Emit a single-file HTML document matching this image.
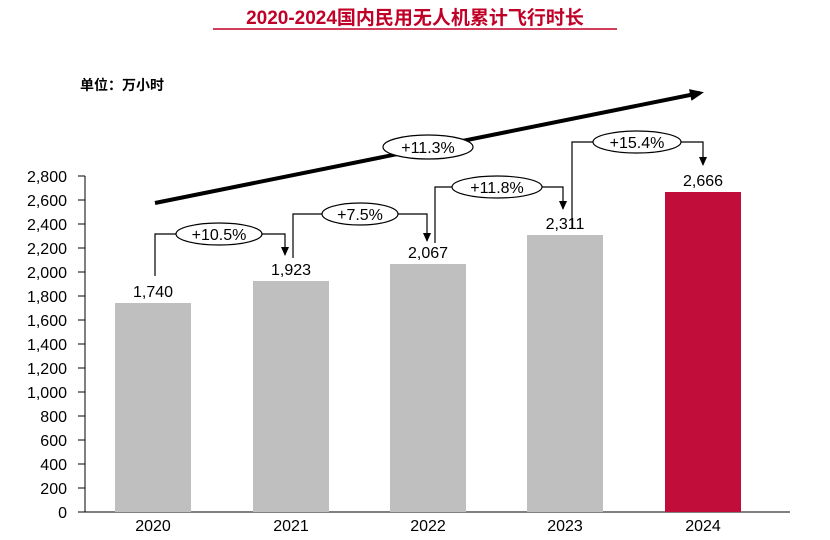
<!DOCTYPE html>
<html><head><meta charset="utf-8"><style>
body{margin:0;background:#fff}
svg{display:block;font-family:"Liberation Sans","Noto Sans CJK SC",sans-serif}
</style></head><body>
<svg width="830" height="540" viewBox="0 0 830 540" xmlns="http://www.w3.org/2000/svg">
<defs><marker id="ah" markerWidth="9" markerHeight="8" refX="8" refY="4" orient="auto" markerUnits="userSpaceOnUse"><path d="M0,0 L9,4 L0,8 z" fill="#000"/></marker>
<marker id="bh" markerWidth="14" markerHeight="12" refX="10" refY="6" orient="auto" markerUnits="userSpaceOnUse"><path d="M0,0 L14,6 L0,12 z" fill="#000"/></marker></defs>
<text x="415" y="24" text-anchor="middle" font-size="19" font-weight="bold" fill="#c00027">2020-2024国内民用无人机累计飞行时长</text>
<line x1="213" y1="29" x2="617" y2="29" stroke="#c00027" stroke-width="1.5"/>
<text x="80" y="90" font-size="14" font-weight="bold" fill="#000">单位：万小时</text>
<g font-size="16" fill="#000" text-anchor="end">
<text x="67" y="182">2,800</text><text x="67" y="206">2,600</text><text x="67" y="230">2,400</text><text x="67" y="254">2,200</text><text x="67" y="278">2,000</text><text x="67" y="302">1,800</text><text x="67" y="326">1,600</text><text x="67" y="350">1,400</text><text x="67" y="374">1,200</text><text x="67" y="398">1,000</text><text x="67" y="422">800</text><text x="67" y="446">600</text><text x="67" y="470">400</text><text x="67" y="494">200</text><text x="67" y="518">0</text>
</g>
<g stroke="#000" stroke-width="1">
<path d="M78,176H85M78,200H85M78,224H85M78,248H85M78,272H85M78,296H85M78,320H85M78,344H85M78,368H85M78,392H85M78,416H85M78,440H85M78,464H85M78,488H85M78,512H85"/>
<line x1="85" y1="176" x2="85" y2="512"/><line x1="78" y1="512" x2="790" y2="512"/>
</g>
<g fill="#bfbfbf"><rect x="115" y="303" width="76" height="209"/><rect x="253" y="281" width="76" height="231"/><rect x="390" y="264" width="76" height="248"/><rect x="527" y="235" width="76" height="277"/></g>
<rect x="665" y="192" width="76" height="320" fill="#c00d3a"/>
<g font-size="16" text-anchor="middle" fill="#000">
<text x="153" y="297">1,740</text><text x="291" y="275">1,923</text><text x="428" y="258">2,067</text><text x="565" y="229">2,311</text><text x="703" y="186">2,666</text>
<text x="153" y="531">2020</text><text x="291" y="531">2021</text><text x="428" y="531">2022</text><text x="565" y="531">2023</text><text x="703" y="531">2024</text>
</g>
<line x1="155" y1="203" x2="700" y2="93" stroke="#000" stroke-width="4" marker-end="url(#bh)"/>
<g fill="none" stroke="#000" stroke-width="1.2">
<path d="M155,276V234H285V255" marker-end="url(#ah)"/>
<path d="M293,258V214H427V241" marker-end="url(#ah)"/>
<path d="M435,243V187H563V209" marker-end="url(#ah)"/>
<path d="M572,228V142H703V165" marker-end="url(#ah)"/>
</g>
<g fill="#fff" stroke="#000" stroke-width="1.2">
<ellipse cx="219" cy="234" rx="43" ry="11"/><ellipse cx="360" cy="214" rx="38" ry="11"/><ellipse cx="497" cy="187" rx="45" ry="11"/><ellipse cx="637" cy="142" rx="44" ry="11"/><ellipse cx="428" cy="147" rx="45" ry="12"/>
</g>
<g font-size="16" text-anchor="middle" fill="#000">
<text x="219" y="240">+10.5%</text><text x="360" y="220">+7.5%</text><text x="497" y="193">+11.8%</text><text x="637" y="148">+15.4%</text><text x="428" y="153">+11.3%</text>
</g>
</svg>
</body></html>
